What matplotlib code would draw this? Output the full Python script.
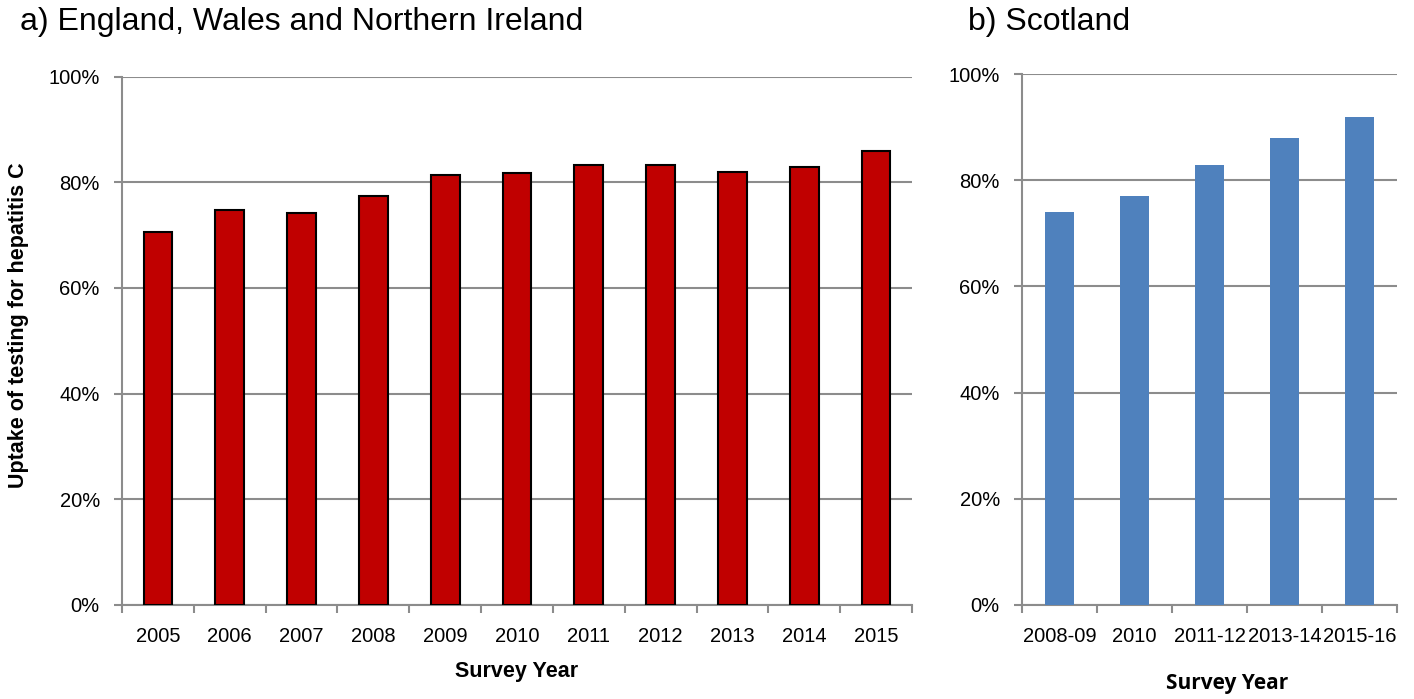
import matplotlib
matplotlib.use("Agg")
import matplotlib.pyplot as plt
from matplotlib.ticker import FuncFormatter, FixedLocator
import numpy as np

FONT = "Liberation Sans"

# Data
ewni_years = ["2005", "2006", "2007", "2008", "2009", "2010", "2011", "2012", "2013", "2014", "2015"]
ewni_uptake = [70.5, 74.8, 74.2, 77.4, 81.4, 81.8, 83.3, 83.3, 82.0, 82.9, 86.0]
scot_years = ["2008-09", "2010", "2011-12", "2013-14", "2015-16"]
scot_uptake = [74.1, 77.1, 82.8, 87.9, 91.9]
y_ticks = [0, 20, 40, 60, 80, 100]

W, H = 1414, 699
fig = plt.figure(figsize=(W / 100, H / 100), dpi=100)

def ax_rect(x0, x1, ytop, ybot):
    return [x0 / W, 1 - ybot / H, (x1 - x0) / W, (ybot - ytop) / H]

grid_c = "#8c8c8c"

def style(ax, n, labels):
    ax.set_ylim(0, 100)
    ax.set_xlim(-0.5, n - 0.5)
    ax.yaxis.set_major_locator(FixedLocator(y_ticks))
    ax.yaxis.set_major_formatter(FuncFormatter(lambda v, p: f"{v:.0f}%"))
    ax.set_xticks(np.arange(n))
    ax.set_xticklabels(labels, fontfamily=FONT, fontsize=14.5)
    ax.set_xticks(np.arange(n + 1) - 0.5, minor=True)
    ax.tick_params(axis="x", which="major", length=0, pad=16)
    ax.tick_params(axis="x", which="minor", length=6, color=grid_c, width=1.5)
    ax.tick_params(axis="y", length=6, color=grid_c, width=1.5, pad=10)
    for lab in ax.get_yticklabels():
        lab.set_fontfamily(FONT)
        lab.set_fontsize(14.5)
    ax.grid(axis="y", color=grid_c, linewidth=1.5)
    ax.set_axisbelow(True)
    for s in ["top", "right"]:
        ax.spines[s].set_visible(False)
    for s in ["left", "bottom"]:
        ax.spines[s].set_color(grid_c)
        ax.spines[s].set_linewidth(1.5)

# Left panel
ax1 = fig.add_axes(ax_rect(122, 912, 76.6, 605))
ax1.bar(np.arange(len(ewni_years)), ewni_uptake, width=0.4, color="#C00000",
        edgecolor="black", linewidth=1.5, zorder=3)
style(ax1, len(ewni_years), ewni_years)
ax1.set_xlabel("Survey Year", fontfamily=FONT, fontweight="bold", fontsize=15.5)
ax1.xaxis.set_label_coords(0.5, -(672 - 605) / (605 - 76.6), transform=ax1.transAxes)
ax1.xaxis.label.set_va("center")
ax1.set_ylabel("Uptake of testing for hepatitis C", fontfamily=FONT, fontweight="bold",
               fontsize=15.5)
ax1.yaxis.set_label_coords(-(122 - 18) / (912 - 122), (605 - 325) / (605 - 76.6), transform=ax1.transAxes)
ax1.yaxis.label.set_va("center")

# Right panel
ax2 = fig.add_axes(ax_rect(1022, 1397, 74, 605))
ax2.bar(np.arange(len(scot_years)), scot_uptake, width=0.38, color="#4F81BD",
        edgecolor="none", zorder=3)
style(ax2, len(scot_years), scot_years)
ax2.set_xlabel("Survey Year", fontfamily="Open Sans", fontweight="bold", fontsize=15)
ax2.xaxis.set_label_coords((1227 - 1022) / (1397 - 1022), -(683 - 605) / (605 - 74), transform=ax2.transAxes)
ax2.xaxis.label.set_va("center")

fig.text(20 / W, 1 - 22 / H, "a) England, Wales and Northern Ireland", fontfamily=FONT,
         fontsize=23, va="center", ha="left")
fig.text(968 / W, 1 - 22 / H, "b) Scotland", fontfamily=FONT,
         fontsize=23, va="center", ha="left")

fig.savefig("out.png", dpi=100)
